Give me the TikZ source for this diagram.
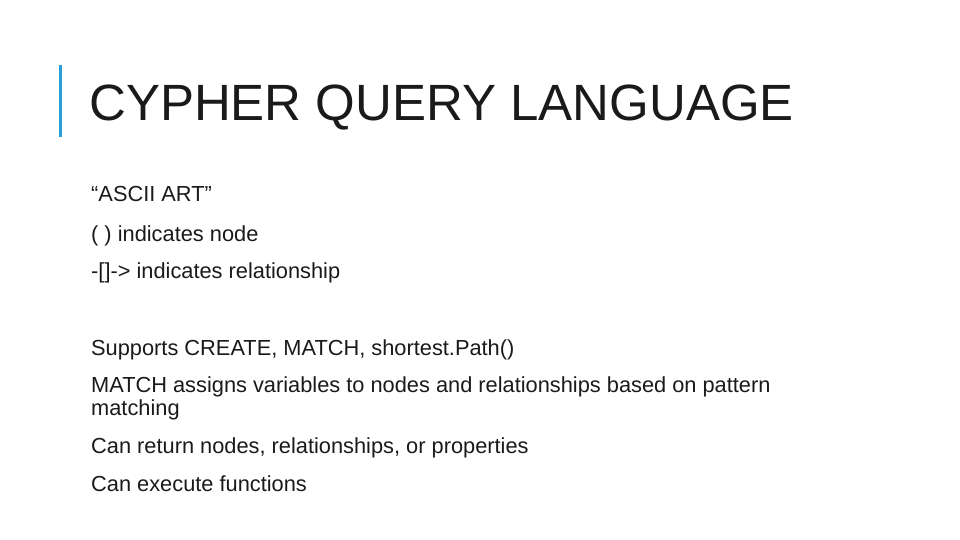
\documentclass[tikz,border=0pt]{standalone}
\usepackage{fontspec}
\setmainfont{Liberation Sans}
\definecolor{accent}{HTML}{2A9FD6}
\definecolor{txt}{HTML}{1A1A1A}
\begin{document}
\begin{tikzpicture}[x=1pt,y=-1pt,
  body/.style={anchor=base west,inner sep=0pt,font=\fontsize{21.8}{24}\selectfont,text=txt}]
\useasboundingbox (0,0) rectangle (960,540);
\fill[accent] (58.5,65) rectangle (61.5,137);
\node[anchor=base west,inner sep=0pt,text=txt,font=\fontsize{51}{60}\selectfont] (title) at (89,121) {CYPHER QUERY LANGUAGE};
\node[body] (l1) at (91,201) {“ASCII ART”};
\node[body] (l2) at (91,241) {( ) indicates node};
\node[body] (l3) at (91,278) {-[]-> indicates relationship};
\node[body] (l4) at (91,355) {Supports CREATE, MATCH, shortest.Path()};
\node[body] (l5) at (91,392) {MATCH assigns variables to nodes and relationships based on pattern};
\node[body] (l5b) at (91,415) {matching};
\node[body] (l6) at (91,453) {Can return nodes, relationships, or properties};
\node[body] (l7) at (91,491) {Can execute functions};
\end{tikzpicture}
\end{document}
